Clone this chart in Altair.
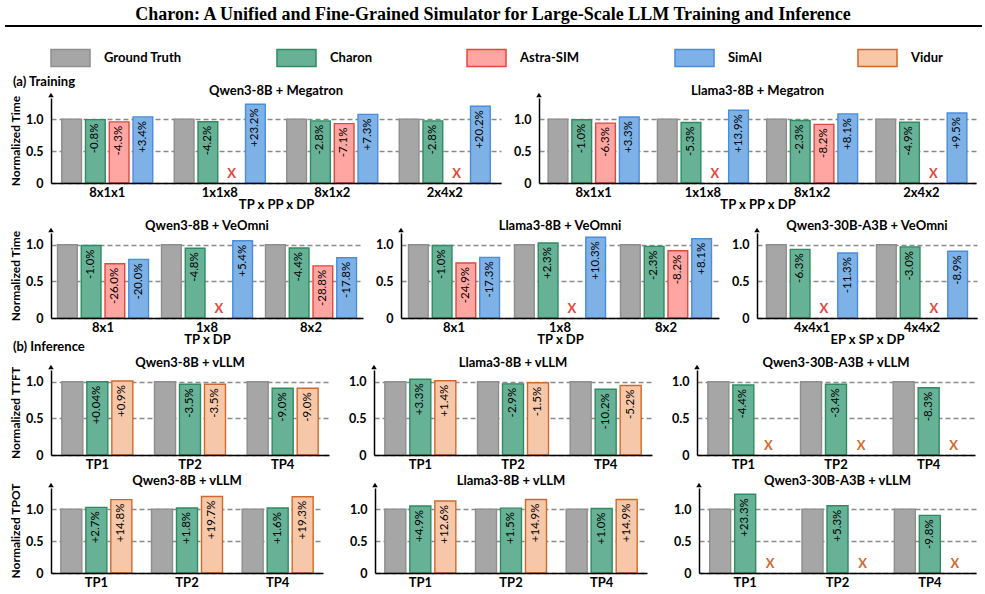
import altair as alt
import pandas as pd

TITLE = "Charon: A Unified and Fine-Grained Simulator for Large-Scale LLM Training and Inference"
SERIES = ["Ground Truth", "Charon", "Astra-SIM", "SimAI", "Vidur"]
FILLS = ["#a6a6a6", "#67b196", "#ffa6a2", "#7eb2e7", "#f6c8a9"]
STROKES = ["#8e8e8e", "#2e8b62", "#e2473d", "#4a8ddb", "#cf6a2c"]
TRAIN_SERIES = ["Ground Truth", "Charon", "Astra-SIM", "SimAI"]
INFER_SERIES = ["Ground Truth", "Charon", "Vidur"]

# ---------------- (a) Training ----------------
meg_cats = ["8x1x1", "1x1x8", "8x1x2", "2x4x2"]
meg_gt = [1.0, 1.0, 1.0, 1.0]
qwen_meg_charon = [-0.8, -4.2, -2.8, -2.8]
qwen_meg_astra = [-4.3, None, -7.1, None]
qwen_meg_simai = [3.4, 23.2, 7.3, 20.2]
llama_meg_charon = [-1.0, -5.3, -2.3, -4.9]
llama_meg_astra = [-6.3, None, -8.2, None]
llama_meg_simai = [3.3, 13.9, 8.1, 9.5]

veo_cats = ["8x1", "1x8", "8x2"]
veo_gt = [1.0, 1.0, 1.0]
qwen_veo_charon = [-1.0, -4.8, -4.4]
qwen_veo_astra = [-26.0, None, -28.8]
qwen_veo_simai = [-20.0, 5.4, -17.8]
llama_veo_charon = [-1.0, 2.3, -2.3]
llama_veo_astra = [-24.9, None, -8.2]
llama_veo_simai = [-17.3, 10.3, 8.1]

moe_veo_cats = ["4x4x1", "4x4x2"]
moe_veo_gt = [1.0, 1.0]
moe_veo_charon = [-6.3, -3.0]
moe_veo_astra = [None, None]
moe_veo_simai = [-11.3, -8.9]

# ---------------- (b) Inference ----------------
tp_cats = ["TP1", "TP2", "TP4"]
tp_gt = [1.0, 1.0, 1.0]
ttft_qwen_charon = [0.04, -3.5, -9.0]
ttft_qwen_vidur = [0.9, -3.5, -9.0]
ttft_llama_charon = [3.3, -2.9, -10.2]
ttft_llama_vidur = [1.4, -1.5, -5.2]
ttft_moe_charon = [-4.4, -3.4, -8.3]
ttft_moe_vidur = [None, None, None]
tpot_qwen_charon = [2.7, 1.8, 1.6]
tpot_qwen_vidur = [14.8, 19.7, 19.3]
tpot_llama_charon = [4.9, 1.5, 1.0]
tpot_llama_vidur = [12.6, 14.9, 14.9]
tpot_moe_charon = [23.3, 5.3, -9.8]
tpot_moe_vidur = [None, None, None]


def fmt(p):
    if abs(p * 10 - round(p * 10)) > 1e-9:
        return f"{p:+.2f}%"
    return f"{p:+.1f}%"


def make_df(cats, gt, series_pcts):
    rows = []
    for i, c in enumerate(cats):
        rows.append(dict(cat=c, series="Ground Truth", value=gt[i], label="", missing=False))
        for name, pcts in series_pcts:
            p = pcts[i]
            if p is None:
                rows.append(dict(cat=c, series=name, value=None, label="", missing=True))
            else:
                rows.append(dict(cat=c, series=name, value=1 + p / 100.0, label=fmt(p), missing=False))
    return pd.DataFrame(rows)


LEG = alt.Legend(
    title=None, orient="none", legendX=-1, legendY=37, direction="horizontal",
    symbolType="M-1,-0.44H1V0.44H-1Z", symbolSize=1521, symbolStrokeWidth=1.5,
    labelFont="Lato", labelFontSize=13, labelFontWeight="bold", labelColor="black",
    labelOffset=13, columnPadding=92, padding=0,
)

FONT = "Lato"


def panel(df, cats, names, title, width, ymax, xtitle=None, ytitle=None,
          group_w=91, sub_pad=0.17, xcolor="#e2473d", section=None, section_y=0):
    step = width / len(cats)
    pi = 1 - group_w / step
    xaxis = alt.Axis(
        title=xtitle, labelAngle=0, ticks=False, domainColor="black", domainWidth=1.5,
        labelPadding=3, labelFont=FONT, labelFontSize=13, labelFontWeight="bold",
        labelColor="black", titleFont=FONT, titleFontSize=13, titleFontWeight="bold",
        titleColor="black", titlePadding=-1, zindex=1, grid=False,
    )
    yaxis = alt.Axis(
        values=[0, 0.5, 1.0], grid=True, gridDash=[5, 3], gridColor="#8a8a8a", gridWidth=1.3,
        ticks=False, domainColor="black", domainWidth=1.5, labelPadding=8,
        labelFont=FONT, labelFontSize=12.5, labelFontWeight="bold", labelColor="black",
        labelExpr="datum.value == 0 ? '0' : format(datum.value, '.1f')",
        title=ytitle, titleFont=FONT, titleFontSize=12, titleFontWeight="bold",
        titleColor="black", titlePadding=3,
    )
    yscale = alt.Scale(domain=[0, ymax], nice=False, zero=True)
    xenc = alt.X("cat:N", scale=alt.Scale(domain=cats, paddingInner=pi, paddingOuter=pi / 2), axis=xaxis)
    xoff = alt.XOffset("series:N", scale=alt.Scale(domain=names, paddingInner=sub_pad, paddingOuter=0))
    yenc = alt.Y("value:Q", scale=yscale, axis=yaxis)
    base = alt.Chart(df)
    bars = base.transform_filter("isValid(datum.value)").mark_bar(strokeWidth=1.4).encode(
        x=xenc, xOffset=xoff, y=yenc,
        fill=alt.Fill("series:N", scale=alt.Scale(domain=SERIES, range=FILLS), legend=LEG),
        stroke=alt.Stroke("series:N", scale=alt.Scale(domain=SERIES, range=STROKES), legend=LEG),
    )
    labels = base.transform_filter("datum.label != ''").mark_text(
        angle=270, align="right", baseline="middle", dx=-4, font=FONT, fontSize=11.5, color="black"
    ).encode(x=xenc, xOffset=xoff, y=yenc, text="label:N")
    xmarks = base.transform_filter("datum.missing").mark_text(
        text="X", font=FONT, fontSize=13, fontWeight="bold", color=xcolor, baseline="alphabetic", dy=-5
    ).encode(x=xenc, xOffset=xoff, y=alt.YDatum(0, scale=yscale, axis=yaxis))
    arrow = alt.Chart(pd.DataFrame({"k": [0]})).mark_point(
        shape="triangle-up", filled=True, color="black", size=30, opacity=1
    ).encode(x=alt.value(0), y=alt.value(-3))
    layers = [bars, labels, xmarks, arrow]
    if section:
        layers.append(
            alt.Chart(pd.DataFrame({"s": [section]})).mark_text(
                align="left", baseline="middle", font=FONT, fontSize=13, fontWeight="bold", color="black"
            ).encode(x=alt.value(-38), y=alt.value(section_y), text="s:N")
        )
    return alt.layer(*layers).properties(
        width=width, height=85,
        title=alt.TitleParams(title, font=FONT, fontSize=13, fontWeight="bold", color="black",
                              offset=-5, frame="group", anchor="middle"),
    )


RES = dict(x="independent", y="independent", xOffset="independent")

A1 = panel(make_df(meg_cats, meg_gt, [("Charon", qwen_meg_charon), ("Astra-SIM", qwen_meg_astra), ("SimAI", qwen_meg_simai)]),
           meg_cats, TRAIN_SERIES, "Qwen3-8B + Megatron", 450, 1.33, xtitle="TP x PP x DP",
           ytitle="Normalized Time")
A2 = panel(make_df(meg_cats, meg_gt, [("Charon", llama_meg_charon), ("Astra-SIM", llama_meg_astra), ("SimAI", llama_meg_simai)]),
           meg_cats, TRAIN_SERIES, "Llama3-8B + Megatron", 437, 1.33, xtitle="TP x PP x DP")
row1 = alt.hconcat(A1, A2, spacing=38, bounds="flush").resolve_scale(**RES)

B1 = panel(make_df(veo_cats, veo_gt, [("Charon", qwen_veo_charon), ("Astra-SIM", qwen_veo_astra), ("SimAI", qwen_veo_simai)]),
           veo_cats, TRAIN_SERIES, "Qwen3-8B + VeOmni", 312, 1.16, xtitle="TP x DP",
           ytitle="Normalized Time", section="(b) Inference", section_y=114)
B2 = panel(make_df(veo_cats, veo_gt, [("Charon", llama_veo_charon), ("Astra-SIM", llama_veo_astra), ("SimAI", llama_veo_simai)]),
           veo_cats, TRAIN_SERIES, "Llama3-8B + VeOmni", 318, 1.16, xtitle="TP x DP")
B3 = panel(make_df(moe_veo_cats, moe_veo_gt, [("Charon", moe_veo_charon), ("Astra-SIM", moe_veo_astra), ("SimAI", moe_veo_simai)]),
           moe_veo_cats, TRAIN_SERIES, "Qwen3-30B-A3B + VeOmni", 220, 1.16, xtitle="EP x SP x DP")
row2 = alt.hconcat(B1, B2, B3, spacing=38, bounds="flush").resolve_scale(**RES)

IC = "#cf6a2c"
C1 = panel(make_df(tp_cats, tp_gt, [("Charon", ttft_qwen_charon), ("Vidur", ttft_qwen_vidur)]),
           tp_cats, INFER_SERIES, "Qwen3-8B + vLLM", 278, 1.16, ytitle="Normalized TTFT",
           group_w=71, sub_pad=0.16, xcolor=IC)
C2 = panel(make_df(tp_cats, tp_gt, [("Charon", ttft_llama_charon), ("Vidur", ttft_llama_vidur)]),
           tp_cats, INFER_SERIES, "Llama3-8B + vLLM", 278, 1.16, group_w=71, sub_pad=0.16, xcolor=IC)
C3 = panel(make_df(tp_cats, tp_gt, [("Charon", ttft_moe_charon), ("Vidur", ttft_moe_vidur)]),
           tp_cats, INFER_SERIES, "Qwen3-30B-A3B + vLLM", 278, 1.16, group_w=71, sub_pad=0.16, xcolor=IC)
row3 = alt.hconcat(C1, C2, C3, spacing=45, bounds="flush").resolve_scale(**RES)

D1 = panel(make_df(tp_cats, tp_gt, [("Charon", tpot_qwen_charon), ("Vidur", tpot_qwen_vidur)]),
           tp_cats, INFER_SERIES, "Qwen3-8B + vLLM", 272, 1.33, ytitle="Normalized TPOT",
           group_w=71, sub_pad=0.16, xcolor=IC)
D2 = panel(make_df(tp_cats, tp_gt, [("Charon", tpot_llama_charon), ("Vidur", tpot_llama_vidur)]),
           tp_cats, INFER_SERIES, "Llama3-8B + vLLM", 272, 1.33, group_w=71, sub_pad=0.16, xcolor=IC)
D3 = panel(make_df(tp_cats, tp_gt, [("Charon", tpot_moe_charon), ("Vidur", tpot_moe_vidur)]),
           tp_cats, INFER_SERIES, "Qwen3-30B-A3B + vLLM", 277, 1.33, group_w=71, sub_pad=0.16, xcolor=IC)
row4 = alt.hconcat(D1, D2, D3, spacing=52, bounds="flush").resolve_scale(**RES)

header = alt.layer(
    alt.Chart(pd.DataFrame({"t": [TITLE]})).mark_text(
        font="Liberation Serif", fontSize=18, fontWeight="bold", baseline="middle", align="center", color="black"
    ).encode(x=alt.value(442), y=alt.value(15), text="t:N"),
    alt.Chart(pd.DataFrame({"k": [0]})).mark_rule(color="black", strokeWidth=2).encode(
        x=alt.value(-46), x2=alt.value(931), y=alt.value(26)
    ),
    alt.Chart(pd.DataFrame({"s": ["(a) Training"]})).mark_text(
        align="left", baseline="middle", font=FONT, fontSize=13, fontWeight="bold", color="black"
    ).encode(x=alt.value(-38), y=alt.value(82), text="s:N"),
).properties(width=925, height=30)

lvl1 = alt.vconcat(header, row1, spacing=-5).resolve_scale(**RES)
lvl2 = alt.vconcat(lvl1, row2, spacing=8).resolve_scale(**RES)
lvl3 = alt.vconcat(lvl2, row3, spacing=2).resolve_scale(**RES)
chart = alt.vconcat(lvl3, row4, spacing=3).resolve_scale(**RES).properties(
    padding={"left": 4, "top": 0, "right": 0, "bottom": 0}
).configure(font=FONT).configure_view(stroke=None)

chart.save("out.html", embed_options={"renderer": "svg", "actions": False})
